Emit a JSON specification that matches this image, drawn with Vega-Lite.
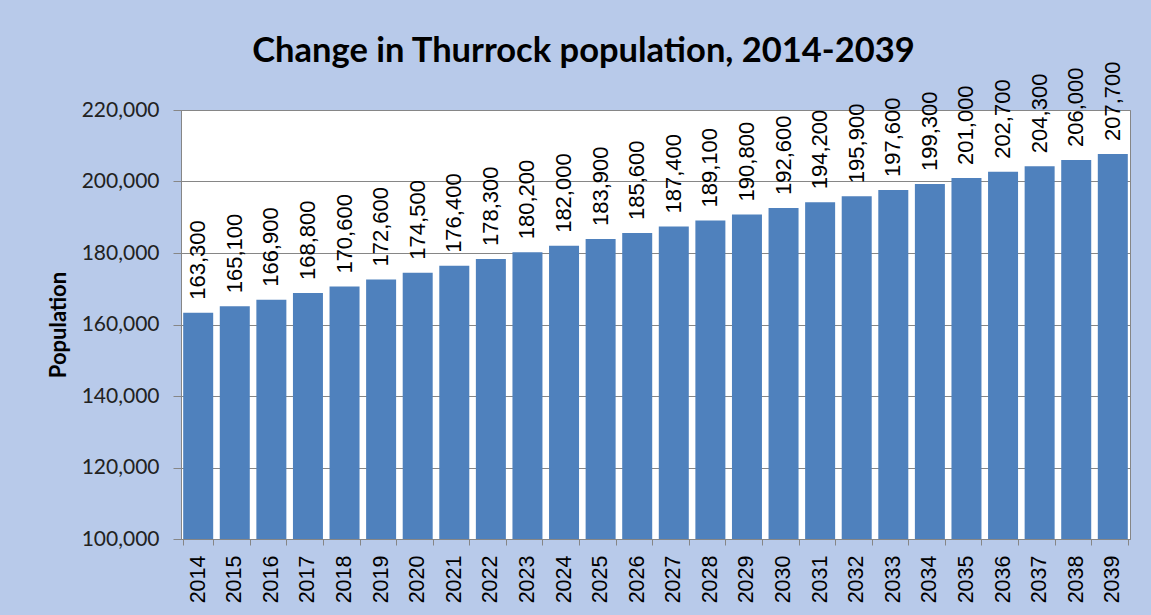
{
  "$schema": "https://vega.github.io/schema/vega-lite/v6.json",
  "width": 949,
  "height": 429,
  "autosize": {"type": "none"},
  "padding": {"left": 181, "top": 110, "right": 21, "bottom": 76},
  "background": "#B8CAEA",
  "title": {
    "text": "Change in Thurrock population, 2014-2039",
    "font": "Lato",
    "fontSize": 34.5,
    "fontWeight": "bold",
    "color": "#000000",
    "anchor": "middle",
    "dx": -72,
    "dy": 12
  },
  "data": {
    "values": [
      {"year": "2014", "population": 163300},
      {"year": "2015", "population": 165100},
      {"year": "2016", "population": 166900},
      {"year": "2017", "population": 168800},
      {"year": "2018", "population": 170600},
      {"year": "2019", "population": 172600},
      {"year": "2020", "population": 174500},
      {"year": "2021", "population": 176400},
      {"year": "2022", "population": 178300},
      {"year": "2023", "population": 180200},
      {"year": "2024", "population": 182000},
      {"year": "2025", "population": 183900},
      {"year": "2026", "population": 185600},
      {"year": "2027", "population": 187400},
      {"year": "2028", "population": 189100},
      {"year": "2029", "population": 190800},
      {"year": "2030", "population": 192600},
      {"year": "2031", "population": 194200},
      {"year": "2032", "population": 195900},
      {"year": "2033", "population": 197600},
      {"year": "2034", "population": 199300},
      {"year": "2035", "population": 201000},
      {"year": "2036", "population": 202700},
      {"year": "2037", "population": 204300},
      {"year": "2038", "population": 206000},
      {"year": "2039", "population": 207700}
    ]
  },
  "encoding": {
    "x": {
      "field": "year",
      "type": "ordinal",
      "scale": {"paddingInner": 0.18, "paddingOuter": 0.06},
      "axis": {
        "title": null,
        "labelAngle": -90,
        "labelAlign": "right",
        "labelBaseline": "middle",
        "labelFont": "Liberation Sans",
        "labelFontSize": 21.5,
        "labelColor": "#000000",
        "labelPadding": 10,
        "tickBand": "extent",
        "tickSize": 6,
        "tickColor": "#868686",
        "domainColor": "#868686",
        "grid": false
      }
    },
    "y": {
      "field": "population",
      "type": "quantitative",
      "scale": {"domain": [100000, 220000], "zero": false, "nice": false},
      "axis": {
        "title": "Population",
        "titleFont": "Lato",
        "titleFontSize": 22,
        "titleFontWeight": "bold",
        "titleColor": "#000000",
        "titlePadding": 11,
        "values": [100000, 120000, 140000, 160000, 180000, 200000, 220000],
        "format": ",.0f",
        "labelFont": "Lato",
        "labelFontSize": 21,
        "labelColor": "#222222",
        "labelPadding": 14,
        "tickSize": 8,
        "tickColor": "#868686",
        "domainColor": "#868686",
        "gridColor": "#868686",
        "gridWidth": 1
      }
    }
  },
  "layer": [
    {"mark": {"type": "bar", "color": "#4F81BD", "clip": true}},
    {
      "mark": {
        "type": "text",
        "angle": -90,
        "align": "left",
        "baseline": "middle",
        "dx": 13,
        "font": "Liberation Sans",
        "fontSize": 22,
        "color": "#000000"
      },
      "encoding": {
        "text": {"field": "population", "type": "quantitative", "format": ",.0f"}
      }
    }
  ],
  "config": {
    "view": {"fill": "#FFFFFF", "stroke": "#868686"},
    "axis": {"domainWidth": 1, "tickWidth": 1}
  }
}
